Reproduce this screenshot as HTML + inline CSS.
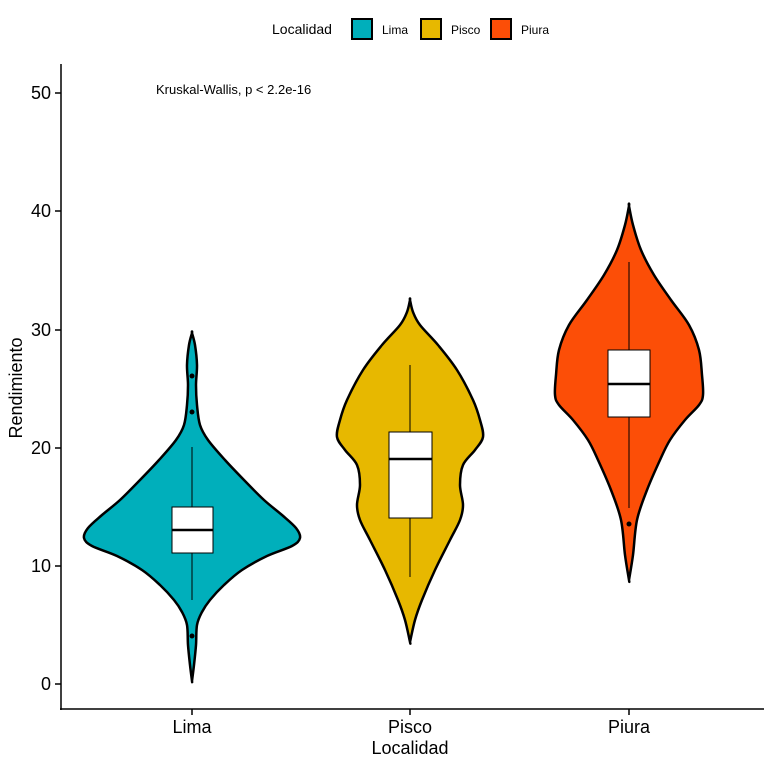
<!DOCTYPE html><html><head><style>body{margin:0;background:#fff}svg{display:block;font-family:"Liberation Sans",sans-serif}</style></head><body>
<svg id="s" width="768" height="768" viewBox="0 0 768 768">
<rect width="768" height="768" fill="#fff"/>
<text x="272" y="34" font-size="14">Localidad</text>
<rect x="352" y="19" width="20" height="20" fill="#00AFBB" stroke="#000" stroke-width="2"/><text x="382" y="34" font-size="12">Lima</text>
<rect x="421" y="19" width="20" height="20" fill="#E7B800" stroke="#000" stroke-width="2"/><text x="451" y="34" font-size="12">Pisco</text>
<rect x="491" y="19" width="20" height="20" fill="#FC4E07" stroke="#000" stroke-width="2"/><text x="521" y="34" font-size="12">Piura</text>
<g id="v"></g>
<line x1="61" y1="64" x2="61" y2="710" stroke="#000" stroke-width="1.5"/>
<line x1="60" y1="709" x2="764" y2="709" stroke="#000" stroke-width="1.5"/>
<g stroke="#000" stroke-width="1.5"><line x1="55" x2="61" y1="684" y2="684"/><line x1="55" x2="61" y1="566" y2="566"/><line x1="55" x2="61" y1="448" y2="448"/><line x1="55" x2="61" y1="330" y2="330"/><line x1="55" x2="61" y1="211" y2="211"/><line x1="55" x2="61" y1="93" y2="93"/>
<line x1="192" x2="192" y1="709" y2="715"/><line x1="410" x2="410" y1="709" y2="715"/><line x1="629" x2="629" y1="709" y2="715"/></g>
<g font-size="18" text-anchor="end"><text x="51" y="690">0</text><text x="51" y="572">10</text><text x="51" y="454">20</text><text x="51" y="336">30</text><text x="51" y="217">40</text><text x="51" y="99">50</text></g>
<g font-size="18" text-anchor="middle"><text x="192" y="733">Lima</text><text x="410" y="733">Pisco</text><text x="629" y="733">Piura</text><text x="410" y="754">Localidad</text></g>
<text transform="translate(22,388) rotate(-90)" font-size="18" text-anchor="middle">Rendimiento</text>
<text x="156" y="94" font-size="13">Kruskal-Wallis, p &lt; 2.2e-16</text>
</svg>
<script>
function path(cx,pts){
 const L=pts.map(p=>[cx-p[1],p[0]]),R=pts.map(p=>[cx+p[1],p[0]]).reverse();
 const all=R.concat(L);
 function cr(a){let d="M"+a[0][0]+","+a[0][1];for(let i=0;i<a.length-1;i++){const p0=a[Math.max(i-1,0)],p1=a[i],p2=a[i+1],p3=a[Math.min(i+2,a.length-1)];d+=` C${p1[0]+(p2[0]-p0[0])/6},${p1[1]+(p2[1]-p0[1])/6} ${p2[0]-(p3[0]-p1[0])/6},${p2[1]-(p3[1]-p1[1])/6} ${p2[0]},${p2[1]}`;}return d;}
 return cr(all.concat([all[0]]))+"Z";
}
const V=[
[192,"#00AFBB",[[333,0],[345,3],[365,5],[385,4],[405,5],[425,8],[440,16],[460,33],[480,52],[500,72],[515,90],[528,104],[538,108],[546,100],[556,75],[570,50],[585,32],[600,18],[612,10],[625,5],[645,4],[665,2],[681,0]],[172,213,507,553,530,447,600],[376,412,636]],
[410,"#E7B800",[[300,0],[312,3],[325,10],[345,28],[370,47],[400,63],[420,70],[437,73],[450,65],[465,53],[485,50],[505,53],[520,50],[540,40],[570,25],[600,12],[620,5],[642,0]],[389,432,432,518,459,365,577],[]],
[629,"#FC4E07",[[206,0],[225,4],[250,12],[275,25],[300,42],[325,60],[350,70],[375,73],[395,74],[405,70],[420,56],[440,41],[460,31],[490,18],[520,8],[555,4],[580,0]],[608,650,350,417,384,262,508],[524]]];
let h="";
for(const [cx,c,p,b,o] of V){
 h+=`<path d="${path(cx,p)}" fill="${c}" stroke="#000" stroke-width="2.5"/>`;
 h+=`<line x1="${cx}" x2="${cx}" y1="${b[5]}" y2="${b[6]}" stroke="#000"/>`;
 h+=`<rect x="${b[0]}" y="${b[2]}" width="${b[1]-b[0]}" height="${b[3]-b[2]}" fill="#fff" stroke="#000"/>`;
 h+=`<line x1="${b[0]}" x2="${b[1]}" y1="${b[4]}" y2="${b[4]}" stroke="#000" stroke-width="2.5"/>`;
 for(const y of o)h+=`<circle cx="${cx}" cy="${y}" r="2.5"/>`;
}
document.getElementById("v").innerHTML=h;
</script>
</body></html>
